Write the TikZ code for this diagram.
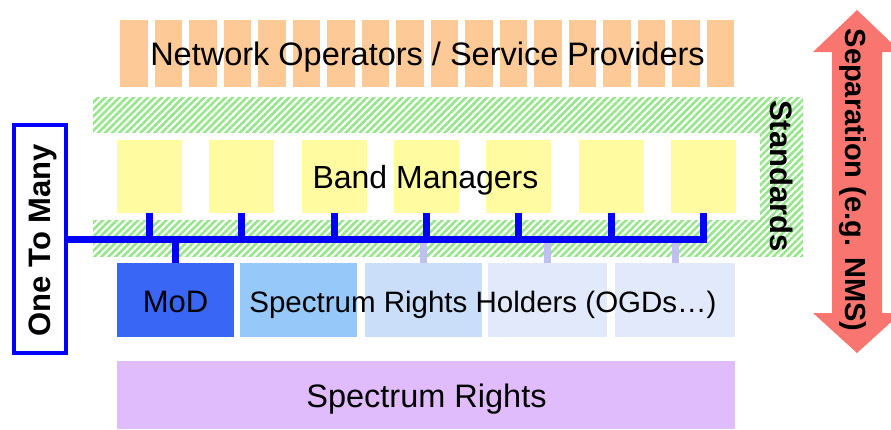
\documentclass[tikz,border=0pt]{standalone}
\usepackage{fontspec}
\setmainfont{Liberation Sans}
\usetikzlibrary{patterns.meta}

\definecolor{opfill}{RGB}{253,201,151}
\definecolor{bmfill}{RGB}{255,251,160}
\definecolor{hatchgreen}{RGB}{150,230,140}
\definecolor{busblue}{RGB}{0,0,250}
\definecolor{modfill}{RGB}{58,102,246}
\definecolor{srhA}{RGB}{150,200,250}
\definecolor{srhB}{RGB}{202,222,250}
\definecolor{srhC}{RGB}{225,233,251}
\definecolor{tapfill}{RGB}{192,192,240}
\definecolor{rightsfill}{RGB}{224,188,252}
\definecolor{sepred}{RGB}{249,117,112}

\begin{document}
\begin{tikzpicture}[x=1pt,y=-1pt,
  box/.style={inner sep=0pt, outer sep=0pt, draw=none},
  bmbox/.style={box, fill=bmfill, minimum width=65pt, minimum height=73pt},
  lowbox/.style={box, minimum height=74pt},
  label/.style={font=\fontsize{32}{36}\selectfont, inner sep=0pt, anchor=base},
  boldlabel/.style={font=\fontsize{31}{36}\selectfont\bfseries, inner sep=0pt, anchor=base},
  hatch/.style={pattern={Lines[angle=45,distance=5pt,line width=2.6pt]}, pattern color=hatchgreen},
  bus/.style={line width=7pt, draw=busblue, line join=miter},
  tap/.style={line width=7pt, draw=tapfill},
]
\useasboundingbox (0,0) rectangle (891,429);

% operators / providers layer: a row of narrow columns
\foreach \i in {0,...,17}
  \fill[opfill] ({120+\i*34.5},20) rectangle ++(27.5,67);
\node[label, font=\fontsize{32.5}{36}\selectfont] (netops) at (427.5,65) {Network Operators / Service Providers};

% standards frame (hatched)
\fill[hatch] (93,97) rectangle (803,132);
\fill[hatch] (93,220) rectangle (803,256);
\fill[hatch] (760,132) rectangle (803,220);
\node[boldlabel, rotate=-90] (standards) at (770,176) {Standards};

% band managers
\foreach \i in {1,...,7}
  \node[bmbox] (bm\i) at ({149.5+(\i-1)*92.3},176.5) {};
\node[label] (bmtext) at (425.5,188) {Band Managers};

% one-to-many box
\node[box, draw=busblue, line width=4pt, minimum width=52pt, minimum height=228pt] (otm) at (40,239) {};
\node[boldlabel, rotate=90] (otmtext) at (50,240) {One To Many};

% spectrum rights holders row
\node[lowbox, fill=modfill, minimum width=117pt] (mod) at (175.5,300) {};
\node[lowbox, fill=srhA, minimum width=117pt] (srh1) at (298.5,300) {};
\node[lowbox, fill=srhB, minimum width=117pt] (srh2) at (423.5,300) {};
\node[lowbox, fill=srhC, minimum width=119pt] (srh3) at (547.5,300) {};
\node[lowbox, fill=srhC, minimum width=120pt] (srh4) at (675,300) {};

% faint taps from the bus to the holders
\foreach \n in {srh2,srh3,srh4}
  \draw[tap] (\n.north) -- (\n.north |- otm.east);

% the bus and its links
\foreach \i in {1,...,6}
  \draw[bus] (bm\i.south) -- (bm\i.south |- otm.east);
\draw[bus] (mod.north) -- (mod.north |- otm.east);
\draw[bus] (otm.east) -- (bm7.south |- otm.east) -- (bm7.south);

\node[label, font=\fontsize{31}{36}\selectfont] (modtext) at (175.5,312) {MoD};
\node[label, font=\fontsize{29.5}{34}\selectfont] (srhtext) at (483,312) {Spectrum Rights Holders (OGDs…)};

% spectrum rights
\node[box, fill=rightsfill, minimum width=618pt, minimum height=68pt] (rights) at (426,395) {};
\node[label, font=\fontsize{32.5}{36}\selectfont] (rightstext) at (426.5,407) {Spectrum Rights};

% separation arrow
\fill[sepred] (857,10) -- (901,52) -- (882,52) -- (882,313) -- (901,313)
  -- (857,353) -- (813,313) -- (832,313) -- (832,52) -- (813,52) -- cycle;
\node[boldlabel, rotate=-90, font=\fontsize{29}{34}\selectfont\bfseries] (sep) at (845,180) {Separation (e.g. NMS)};
\end{tikzpicture}
\end{document}
